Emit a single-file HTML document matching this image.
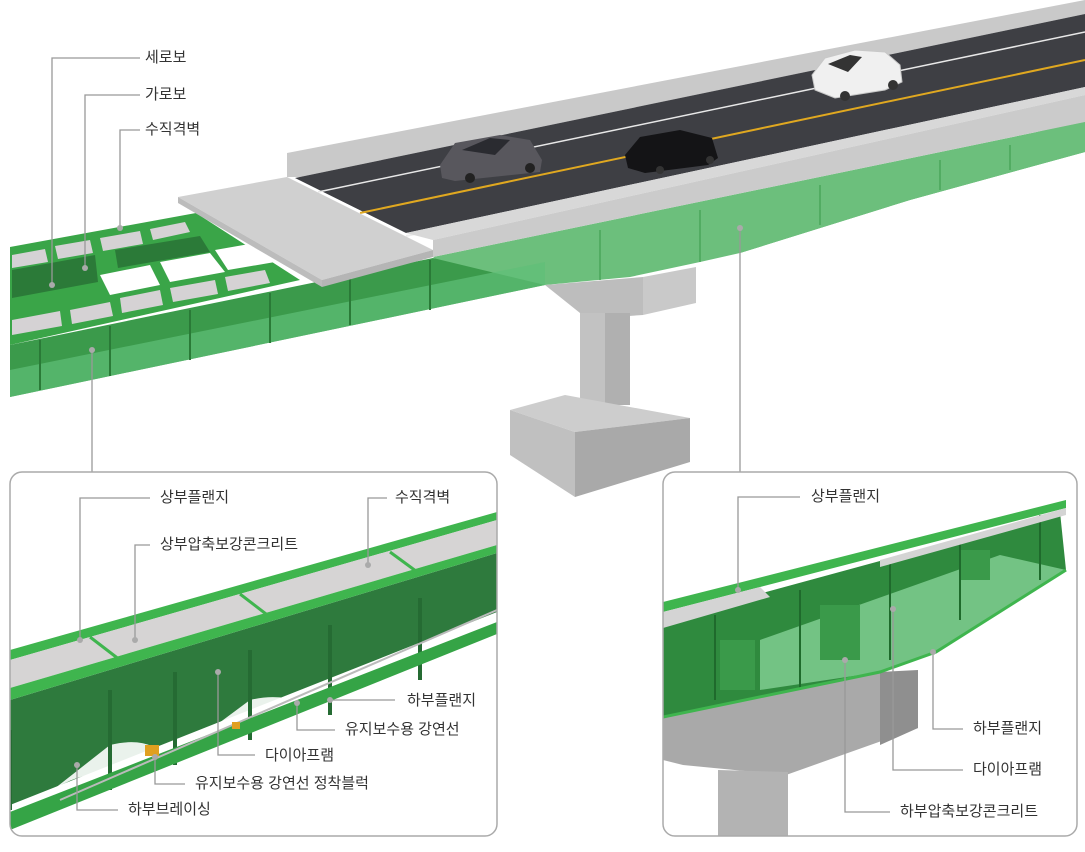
<!DOCTYPE html>
<html><head><meta charset="utf-8"><style>
html,body{margin:0;padding:0;background:#fff;}
svg{display:block}
text{font-family:"Liberation Sans","Noto Sans CJK KR",sans-serif;font-size:15px;fill:#333;dominant-baseline:middle}
.l{stroke:#999;stroke-width:1.3;fill:none}
.d{fill:#aaa}
</style></head><body>
<svg width="1085" height="852" viewBox="0 0 1085 852" xmlns="http://www.w3.org/2000/svg">
<!-- far girder behind deck on right -->
<polygon points="700,230 1085,118 1085,152 910,200 740,253" fill="#4fae5e"/>
<!-- haunch translucent -->
<polygon points="433,257 1085,122 1085,152 910,200 740,253 700,262 630,277 545,285 470,292" fill="#6cbf7c"/>
<g stroke="#4aa55a" stroke-width="1.5"><line x1="600" y1="230" x2="600" y2="280"/><line x1="700" y1="210" x2="700" y2="262"/><line x1="820" y1="185" x2="820" y2="225"/><line x1="940" y1="160" x2="940" y2="190"/><line x1="1010" y1="145" x2="1010" y2="170"/></g>
<!-- pier -->
<polygon points="545,285 643,277 643,315 600,318 580,313" fill="#bdbdbd"/>
<polygon points="643,277 696,267 696,303 643,315" fill="#c9c9c9"/>
<polygon points="580,313 630,313 630,405 580,405" fill="#c2c2c2"/>
<polygon points="605,313 630,313 630,405 605,405" fill="#b0b0b0"/>
<polygon points="510,410 565,395 690,418 575,432" fill="#cdcdcd"/>
<polygon points="510,410 575,432 575,497 510,455" fill="#c0c0c0"/>
<polygon points="575,432 690,418 690,462 575,497" fill="#a9a9a9"/>
<!-- left girder -->
<polygon points="10,345 433,258 545,285 10,397" fill="#3b9a4b"/>
<polygon points="10,370 545,262 545,285 10,397" fill="#5fbf78" opacity="0.7"/>
<g stroke="#2a7a37" stroke-width="2"><line x1="40" y1="340" x2="40" y2="390"/><line x1="110" y1="326" x2="110" y2="376"/><line x1="190" y1="310" x2="190" y2="360"/><line x1="270" y1="293" x2="270" y2="343"/><line x1="350" y1="277" x2="350" y2="325"/><line x1="430" y1="260" x2="430" y2="310"/></g>
<polygon points="10,247 196,213 300,280 10,345" fill="#3aa548"/>
<g fill="#d5d2d4">
<polygon points="12,255 45,249 48,262 12,268"/><polygon points="55,246 90,240 93,253 58,259"/><polygon points="100,238 140,231 143,244 103,251"/><polygon points="150,229 185,222 190,232 153,240"/>
<polygon points="12,320 60,311 62,326 12,335"/><polygon points="70,310 110,302 113,316 72,324"/><polygon points="120,298 160,290 163,305 122,313"/><polygon points="170,288 215,280 218,294 173,302"/><polygon points="225,277 265,270 270,283 228,291"/>
</g>
<g fill="#ffffff"><polygon points="100,275 150,265 160,285 110,295"/><polygon points="160,262 210,253 225,272 170,282"/><polygon points="215,250 255,243 275,262 228,270"/></g>
<g fill="#2b7a38"><polygon points="12,270 95,255 98,282 12,298"/><polygon points="115,250 200,236 210,252 118,268"/></g>
<!-- deck -->
<polygon points="287,153 1085,0 1085,14 300,177 287,177" fill="#c9c9c9"/>
<polygon points="295,178 1085,14 1085,87 406,233" fill="#3e3f44"/>
<line x1="318" y1="192" x2="1085" y2="32" stroke="#e8e8e8" stroke-width="1.5"/>
<line x1="360" y1="213" x2="1085" y2="60" stroke="#e0a820" stroke-width="2"/>
<line x1="406" y1="236" x2="1085" y2="90" stroke="#eeeeee" stroke-width="2"/>
<polygon points="406,233 1085,87 1085,95 433,240" fill="#d8d8d8"/>
<polygon points="433,240 1085,95 1085,122 433,257" fill="#cbcbcb"/>
<polygon points="178,197 287,177 433,250 322,280" fill="#d0d0d0"/>
<polygon points="178,197 322,280 322,287 178,203" fill="#bcbcbc"/>
<polygon points="322,280 433,250 433,257 322,287" fill="#b5b5b5"/>
<!-- cars -->
<g><path d="M440,165 L455,143 L500,135 L530,140 L542,160 L540,172 L455,181 L442,178 Z" fill="#58575d"/><path d="M462,150 L490,138 L510,140 L495,155 Z" fill="#2a2b30"/><circle cx="470" cy="178" r="5" fill="#222"/><circle cx="530" cy="168" r="5" fill="#222"/></g>
<g><path d="M625,155 L640,137 L680,130 L712,138 L718,158 L708,165 L645,173 L628,168 Z" fill="#141416"/><circle cx="660" cy="170" r="4" fill="#333"/><circle cx="710" cy="160" r="4" fill="#333"/></g>
<g><path d="M812,75 L825,58 L855,50 L885,52 L900,65 L902,82 L885,90 L835,98 L815,90 Z" fill="#f0f0f0" stroke="#c8c8c8"/><path d="M828,64 L850,55 L862,57 L848,72 Z" fill="#333"/><circle cx="845" cy="96" r="5" fill="#333"/><circle cx="893" cy="85" r="5" fill="#333"/></g>
<!-- top labels -->
<polyline class="l" points="140,58 52,58 52,285"/><circle class="d" cx="52" cy="285" r="3"/>
<text x="145" y="58">세로보</text>
<polyline class="l" points="140,95 85,95 85,268"/><circle class="d" cx="85" cy="268" r="3"/>
<text x="145" y="95">가로보</text>
<polyline class="l" points="140,130 120,130 120,228"/><circle class="d" cx="120" cy="228" r="3"/>
<text x="145" y="130">수직격벽</text>
<line class="l" x1="92" y1="350" x2="92" y2="472"/><circle class="d" cx="92" cy="350" r="3"/>
<line class="l" x1="740" y1="228" x2="740" y2="472"/><circle class="d" cx="740" cy="228" r="3"/>
<defs><clipPath id="cl"><rect x="10" y="472" width="487" height="364" rx="12"/></clipPath>
<clipPath id="cr"><rect x="663" y="472" width="414" height="364" rx="12"/></clipPath></defs>
<!-- left panel -->
<g clip-path="url(#cl)">
<polygon points="10,700 497,553 497,612 10,805" fill="#2e7a3d"/>
<g fill="#ffffff">
<path d="M40,800 Q75,770 110,775 L170,760 Q150,735 110,745 Z" opacity="0.9"/>
<path d="M180,752 Q215,725 250,730 L330,715 Q290,690 250,700 Z" opacity="0.9"/>
<path d="M340,710 Q370,690 420,690 L497,668 Q440,650 400,660 Z" opacity="0.9"/>
</g>
<g stroke="#256b33" stroke-width="4"><line x1="10" y1="730" x2="10" y2="810"/><line x1="110" y1="690" x2="110" y2="790"/><line x1="175" y1="672" x2="175" y2="765"/><line x1="250" y1="650" x2="250" y2="740"/><line x1="330" y1="625" x2="330" y2="715"/><line x1="420" y1="598" x2="420" y2="680"/></g>
<polygon points="10,812 497,622 497,634 10,830" fill="#35a446"/>
<line x1="60" y1="800" x2="497" y2="610" stroke="#bbb" stroke-width="2"/>
<polygon points="10,650 497,512 497,520 10,660" fill="#3fb54e"/>
<polygon points="10,660 497,520 497,545 10,688" fill="#d6d4d4"/>
<g stroke="#3fb54e" stroke-width="3"><line x1="90" y1="637" x2="120" y2="660"/><line x1="240" y1="594" x2="270" y2="617"/><line x1="390" y1="552" x2="420" y2="574"/></g>
<polygon points="10,688 497,545 497,553 10,700" fill="#3fb54e"/>
<rect x="145" y="745" width="14" height="11" fill="#e0a020"/>
<rect x="232" y="722" width="8" height="7" fill="#e0a020"/>
</g>
<rect x="10" y="472" width="487" height="364" rx="12" fill="none" stroke="#aaa" stroke-width="1.5"/>
<polyline class="l" points="150,498 80,498 80,640"/><circle class="d" cx="80" cy="640" r="3"/><text x="160" y="498">상부플랜지</text>
<polyline class="l" points="150,545 135,545 135,640"/><circle class="d" cx="135" cy="640" r="3"/><text x="160" y="545">상부압축보강콘크리트</text>
<polyline class="l" points="387,498 368,498 368,565"/><circle class="d" cx="368" cy="565" r="3"/><text x="395" y="498">수직격벽</text>
<polyline class="l" points="330,700 395,700"/><circle class="d" cx="330" cy="700" r="3"/><text x="407" y="701">하부플랜지</text>
<polyline class="l" points="297,703 297,730 335,730"/><circle class="d" cx="297" cy="703" r="3"/><text x="345" y="730">유지보수용 강연선</text>
<polyline class="l" points="218,672 218,755 255,755"/><circle class="d" cx="218" cy="672" r="3"/><text x="265" y="756">다이아프램</text>
<polyline class="l" points="155,757 155,784 185,784"/><circle class="d" cx="155" cy="757" r="3"/><text x="195" y="784">유지보수용 강연선 정착블럭</text>
<polyline class="l" points="77,765 77,810 118,810"/><circle class="d" cx="77" cy="765" r="3"/><text x="128" y="810">하부브레이싱</text>
<!-- right panel -->
<g clip-path="url(#cr)">
<polygon points="663,717 880,672 918,672 918,728 786,775 683,765 663,760" fill="#a9a9a9"/>
<polygon points="880,672 918,670 918,728 880,745" fill="#8f8f8f"/>
<polygon points="718,770 788,772 788,836 718,836" fill="#b3b3b3"/>
<polygon points="663,620 1060,512 1066,570 936,652 880,672 663,717" fill="#2f8a3e"/>
<polygon points="760,640 1000,555 1066,570 936,652 880,672 760,690" fill="#7bc98c" opacity="0.9"/>
<g fill="#3a9a4a"><rect x="720" y="640" width="35" height="50"/><rect x="820" y="605" width="40" height="55"/><rect x="960" y="550" width="30" height="30"/></g>
<g stroke="#1f6a2c" stroke-width="2"><line x1="715" y1="615" x2="715" y2="700"/><line x1="800" y1="590" x2="800" y2="690"/><line x1="890" y1="560" x2="890" y2="660"/><line x1="960" y1="540" x2="960" y2="620"/><line x1="1040" y1="515" x2="1040" y2="580"/></g>
<polyline points="663,717 880,672 936,652 1066,570" fill="none" stroke="#3fb54e" stroke-width="3"/>
<polygon points="663,602 1066,500 1066,508 663,612" fill="#3fb54e"/>
<polygon points="663,612 760,587 770,597 663,628" fill="#d4d4d4"/>
<polygon points="880,560 1066,508 1066,515 880,567" fill="#d4d4d4"/>
</g>
<rect x="663" y="472" width="414" height="364" rx="12" fill="none" stroke="#aaa" stroke-width="1.5"/>
<polyline class="l" points="800,497 738,497 738,590"/><circle class="d" cx="738" cy="590" r="3"/><text x="811" y="497">상부플랜지</text>
<polyline class="l" points="933,652 933,729 963,729"/><circle class="d" cx="933" cy="652" r="3"/><text x="973" y="729">하부플랜지</text>
<polyline class="l" points="893,609 893,770 963,770"/><circle class="d" cx="893" cy="609" r="3"/><text x="973" y="770">다이아프램</text>
<polyline class="l" points="845,660 845,812 890,812"/><circle class="d" cx="845" cy="660" r="3"/><text x="900" y="812">하부압축보강콘크리트</text>
</svg>
</body></html>
